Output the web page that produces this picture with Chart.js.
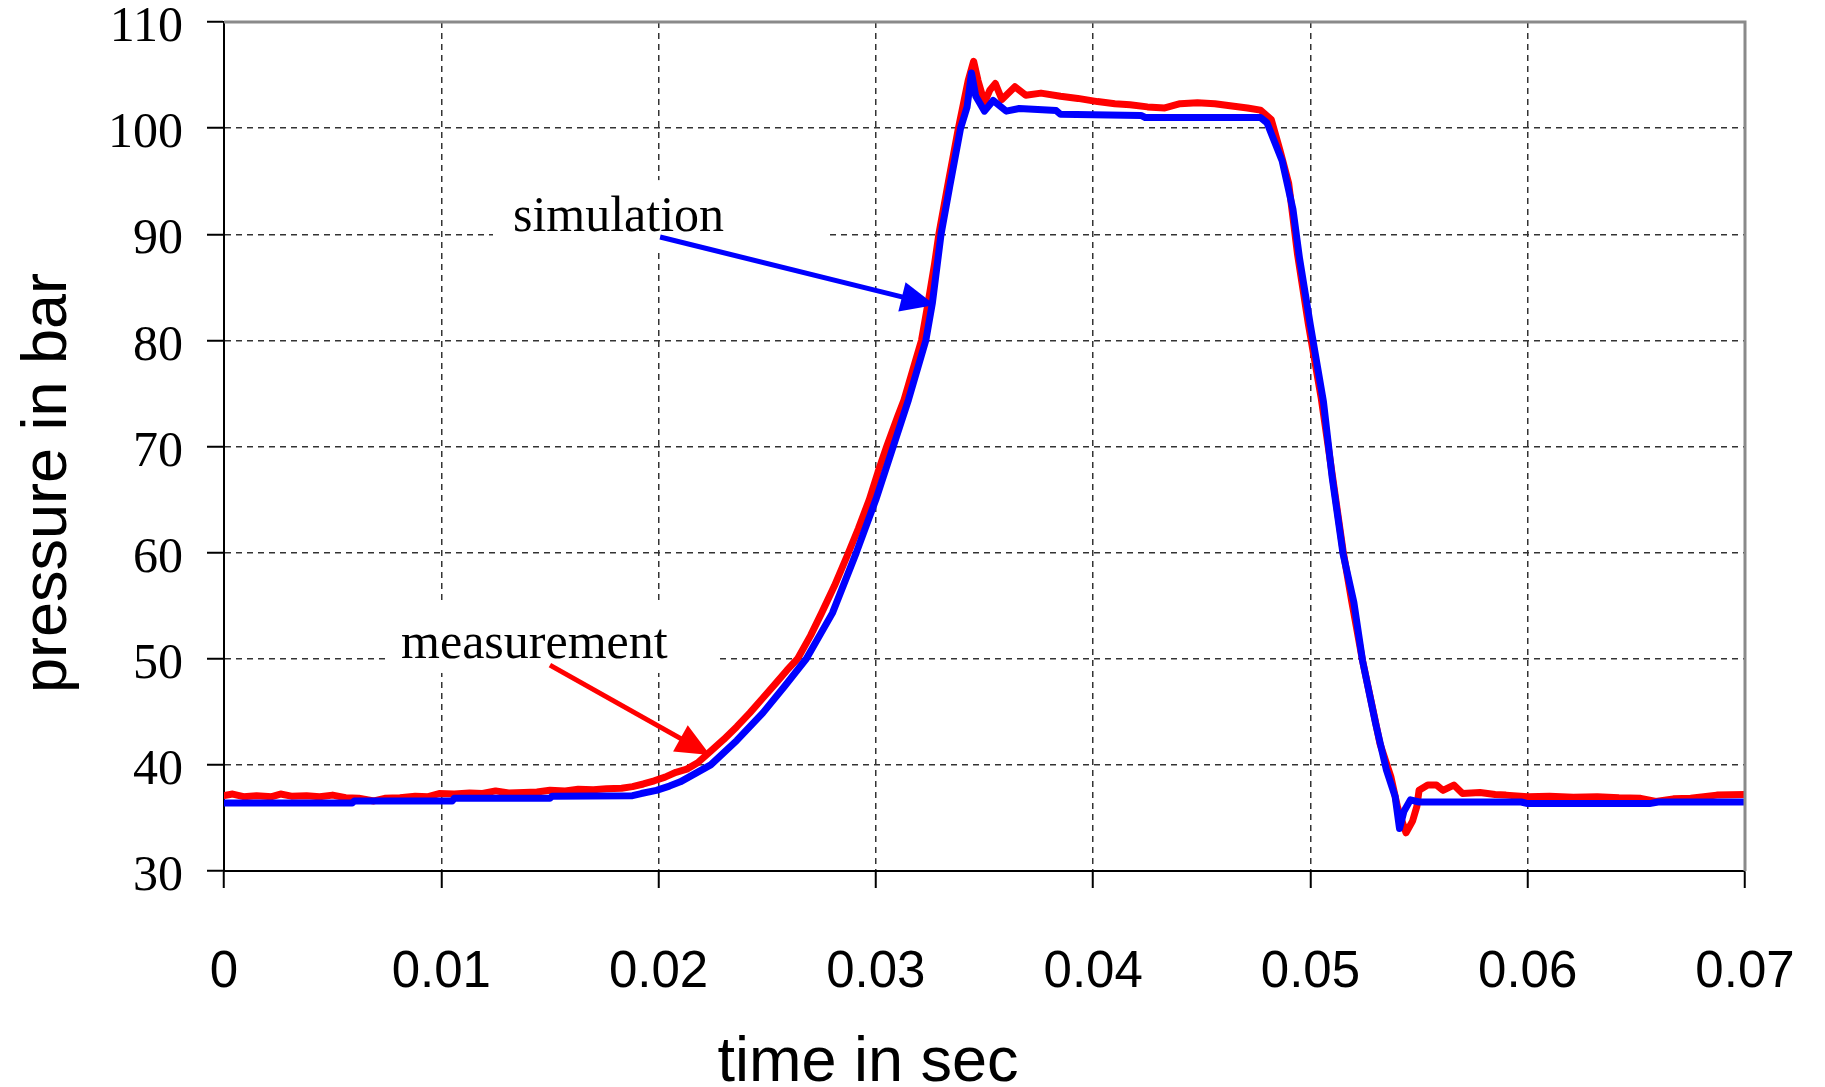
<!DOCTYPE html>
<html>
<head>
<meta charset="utf-8">
<script src="https://cdn.jsdelivr.net/npm/chart.js@4.4.1/dist/chart.umd.min.js"></script>
<style>
  html, body { margin: 0; padding: 0; background: #fff; }
</style>
</head>
<body>
<canvas id="chartPress" width="1825" height="1087"></canvas>
<script>
// ── measured trace (red), time in s / pressure in bar
const measT = [0, 0.0004, 0.0009, 0.0015, 0.0022, 0.0026, 0.0031, 0.0038, 0.0044, 0.0050,
  0.0056, 0.0062, 0.0069, 0.0074, 0.0081, 0.0088, 0.0094, 0.0099, 0.0106, 0.0113,
  0.0119, 0.0125, 0.0131, 0.0138, 0.0144, 0.0150, 0.0157, 0.0163, 0.0170, 0.0176,
  0.0183, 0.0188, 0.0193, 0.0198, 0.0203, 0.0208, 0.0213, 0.0218, 0.0224, 0.0230,
  0.0236, 0.0242, 0.0248, 0.0254, 0.0259, 0.0264, 0.0270, 0.0275, 0.0281, 0.0287,
  0.0292, 0.0297, 0.0301, 0.0305, 0.0310, 0.0313, 0.0317, 0.0321, 0.0324, 0.0327,
  0.0329, 0.0333, 0.0338, 0.0340, 0.03425, 0.0345, 0.0347, 0.0350, 0.03525, 0.0355,
  0.0358, 0.0364, 0.0369, 0.0376, 0.0385, 0.0393, 0.0402, 0.0410, 0.0417, 0.0425,
  0.0433, 0.0440, 0.0448, 0.0456, 0.0463, 0.0471, 0.0477, 0.0482, 0.0486, 0.0490,
  0.0494, 0.0499, 0.0505, 0.0510, 0.0515, 0.0519, 0.0524, 0.0530, 0.0532, 0.0537,
  0.0540, 0.0542, 0.0544, 0.0547, 0.0549, 0.0550, 0.0554, 0.0558, 0.0561, 0.0566,
  0.0570, 0.0578, 0.0585, 0.0590, 0.0600, 0.0610, 0.0621, 0.0632, 0.0642, 0.0652,
  0.0659, 0.0667, 0.0675, 0.0687, 0.0700];
const measP = [37.1, 37.25, 37.0, 37.1, 37.0, 37.25, 37.05, 37.1, 37.0, 37.15,
  36.9, 36.85, 36.6, 36.85, 36.9, 37.05, 37.0, 37.3, 37.25, 37.35,
  37.3, 37.55, 37.35, 37.4, 37.45, 37.6, 37.55, 37.7, 37.65, 37.75,
  37.8, 37.95, 38.2, 38.5, 38.85, 39.3, 39.6, 40.2, 41.3, 42.4,
  43.6, 44.9, 46.3, 47.7, 48.9, 50.0, 52.2, 54.3, 56.9, 59.8,
  62.3, 65.0, 67.6, 70.0, 72.8, 74.4, 77.2, 80.0, 83.5, 87.2,
  90.0, 94.5, 100.0, 102.0, 104.5, 106.3, 104.5, 102.4, 103.6, 104.2,
  102.7, 103.9, 103.1, 103.3, 103.0, 102.8, 102.5, 102.3, 102.2, 102.0,
  101.9, 102.3, 102.4, 102.3, 102.1, 101.9, 101.7, 100.8, 97.9, 94.8,
  88.2, 81.6, 74.5, 67.4, 60.2, 55.4, 49.8, 44.0, 42.0, 38.9,
  36.1, 34.8, 33.6, 34.7, 36.1, 37.6, 38.1, 38.1, 37.6, 38.1,
  37.3, 37.4, 37.2, 37.15, 37.0, 37.05, 36.95, 37.0, 36.9, 36.85,
  36.55, 36.8, 36.85, 37.15, 37.2];

// ── simulated trace (blue)
const simT = [0, 0.0030, 0.0059, 0.0060, 0.0105, 0.0106, 0.0150, 0.0151, 0.0188, 0.0192,
  0.0199, 0.0205, 0.0210, 0.0217, 0.0224, 0.0236, 0.0248, 0.0258, 0.0268, 0.0280,
  0.0291, 0.0300, 0.0308, 0.0315, 0.0323, 0.0326, 0.0330, 0.0334, 0.0339, 0.0342,
  0.0344, 0.0346, 0.0350, 0.0354, 0.0360, 0.0366, 0.0383, 0.0385, 0.0422, 0.0424,
  0.0477, 0.0480, 0.0487, 0.0492, 0.0495, 0.0500, 0.0506, 0.0510, 0.0515, 0.0520,
  0.0524, 0.0530, 0.0535, 0.0539, 0.0541, 0.0543, 0.0546, 0.0550, 0.0597, 0.0600,
  0.0656, 0.0660, 0.0700];
const simP = [36.4, 36.4, 36.4, 36.6, 36.6, 36.85, 36.85, 37.05, 37.1, 37.3,
  37.6, 38.0, 38.4, 39.2, 40.0, 42.3, 44.9, 47.4, 50.0, 54.3,
  60.0, 65.0, 70.0, 74.4, 80.0, 83.5, 90.0, 94.5, 100.0, 102.0,
  105.2, 103.0, 101.6, 102.6, 101.6, 101.85, 101.65, 101.3, 101.2, 101.0,
  101.0, 100.5, 96.9, 92.3, 87.7, 81.4, 74.2, 67.1, 59.9, 55.3,
  49.8, 43.9, 39.5, 37.0, 34.0, 35.6, 36.7, 36.5, 36.5, 36.35,
  36.35, 36.5, 36.5];

const xTickLabels = ['0', '0.01', '0.02', '0.03', '0.04', '0.05', '0.06', '0.07'];
const yTickLabels = ['30', '40', '50', '60', '70', '80', '90', '100', '110'];

// text call-outs with arrows, positioned in data units
const notes = [
  { text: 'simulation', color: '#0000FF', at: [0.0133, 90.3],
    box: [0.01238, 95.1, 0.02775, 88.33], from: [0.02007, 89.74], to: [0.03272, 83.33] },
  { text: 'measurement', color: '#FF0000', at: [0.00815, 50.07],
    box: [0.00741, 55.53, 0.02273, 48.66], from: [0.0150, 49.4], to: [0.02237, 40.93] },
];

const notesPlugin = {
  id: 'notes',
  beforeDatasetsDraw(chart) {
    const { ctx, scales: { x, y } } = chart;
    ctx.save();
    ctx.fillStyle = '#fff';
    notes.forEach(n => {
      const x0 = x.getPixelForValue(n.box[0]), y0 = y.getPixelForValue(n.box[1]);
      const x1 = x.getPixelForValue(n.box[2]), y1 = y.getPixelForValue(n.box[3]);
      ctx.fillRect(x0, y0, x1 - x0, y1 - y0);
    });
    ctx.restore();
  },
  afterDatasetsDraw(chart) {
    const { ctx, scales: { x, y } } = chart;
    ctx.save();
    notes.forEach(n => {
      ctx.font = "50px 'Liberation Serif', serif";
      ctx.fillStyle = '#000';
      ctx.textAlign = 'left';
      ctx.textBaseline = 'alphabetic';
      ctx.fillText(n.text, x.getPixelForValue(n.at[0]), y.getPixelForValue(n.at[1]));

      const fx = x.getPixelForValue(n.from[0]), fy = y.getPixelForValue(n.from[1]);
      const tx = x.getPixelForValue(n.to[0]), ty = y.getPixelForValue(n.to[1]);
      const len = Math.hypot(tx - fx, ty - fy);
      const ux = (tx - fx) / len, uy = (ty - fy) / len;
      const head = 34, half = 15;
      const bx = tx - ux * head, by = ty - uy * head;
      ctx.strokeStyle = n.color;
      ctx.fillStyle = n.color;
      ctx.lineWidth = 5;
      ctx.beginPath();
      ctx.moveTo(fx, fy);
      ctx.lineTo(bx + ux * 2, by + uy * 2);
      ctx.stroke();
      ctx.beginPath();
      ctx.moveTo(tx, ty);
      ctx.lineTo(bx - uy * half, by + ux * half);
      ctx.lineTo(bx + uy * half, by - ux * half);
      ctx.closePath();
      ctx.fill();
    });
    ctx.restore();
  },
  afterDraw(chart) {
    const { ctx, chartArea: a } = chart;
    ctx.save();
    // grey frame on top and right
    ctx.strokeStyle = '#8a8a8a';
    ctx.lineWidth = 3;
    ctx.beginPath();
    ctx.moveTo(a.left, a.top);
    ctx.lineTo(a.right, a.top);
    ctx.lineTo(a.right, a.bottom);
    ctx.stroke();

    // axis titles
    ctx.fillStyle = '#000';
    ctx.font = "63px 'Liberation Sans', Arial, sans-serif";
    ctx.textAlign = 'center';
    ctx.textBaseline = 'alphabetic';
    ctx.fillText('time in sec', 868, 1081);
    ctx.translate(66, 483);
    ctx.rotate(-Math.PI / 2);
    ctx.fillText('pressure in bar', 0, 0);
    ctx.restore();
  }
};

const gridStyle = { color: '#333', lineWidth: 1.5, tickLength: 17, tickColor: '#000', tickWidth: 2 };
const borderStyle = { color: '#000', width: 2, dash: [6, 5] };

new Chart(document.getElementById('chartPress'), {
  type: 'line',
  data: {
    datasets: [
      {
        label: 'simulation',
        data: simT.map((t, i) => ({ x: t, y: simP[i] })),
        borderColor: '#0000FF',
        borderWidth: 7,
        pointRadius: 0,
        borderJoinStyle: 'round',
        borderCapStyle: 'round',
        order: 0,
      },
      {
        label: 'measurement',
        data: measT.map((t, i) => ({ x: t, y: measP[i] })),
        borderColor: '#FF0000',
        borderWidth: 7,
        pointRadius: 0,
        borderJoinStyle: 'round',
        borderCapStyle: 'round',
        order: 1,
      },
    ],
  },
  options: {
    responsive: false,
    devicePixelRatio: 1,
    animation: false,
    layout: { padding: { top: 22, right: 80, left: 0, bottom: 0 } },
    plugins: { legend: { display: false }, tooltip: { enabled: false } },
    scales: {
      x: {
        type: 'linear', min: 0, max: 0.07,
        ticks: {
          stepSize: 0.01, autoSkip: false, maxRotation: 0, padding: 54, color: '#000',
          font: { family: "'Liberation Sans', Arial, sans-serif", size: 51 },
          callback: (v, i) => xTickLabels[i],
        },
        grid: gridStyle,
        border: borderStyle,
        afterFit(s) { s.height = 216; s.paddingLeft = 0; s.paddingRight = 0; },
      },
      y: {
        type: 'linear', min: 30, max: 110,
        ticks: {
          stepSize: 10, padding: 24, labelOffset: 6, color: '#000',
          font: { family: "'Liberation Serif', 'Times New Roman', serif", size: 50 },
          callback: (v, i) => yTickLabels[i],
        },
        grid: gridStyle,
        border: borderStyle,
        afterFit(s) { s.width = 224; s.paddingTop = 0; s.paddingBottom = 0; },
      },
    },
  },
  plugins: [notesPlugin],
});
</script>
</body>
</html>
